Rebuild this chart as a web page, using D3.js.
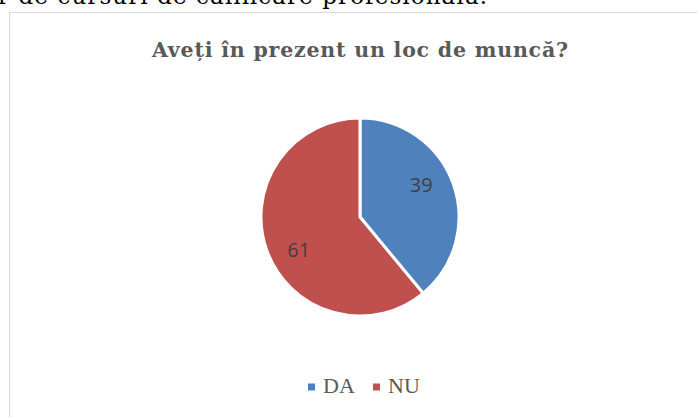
<!DOCTYPE html>
<html><head><meta charset="utf-8">
<script src="https://cdn.jsdelivr.net/npm/d3@7"></script>
<style>body{margin:0;background:#fff;}svg{display:block;}</style>
</head><body>
<svg id="c" width="697" height="417"></svg>
<script>
const categories = ["DA", "NU"];
const values = [39, 61];
const colors = ["#4f81bd", "#c0504d"];
const title = "Aveți în prezent un loc de muncă?";
const docText = "r de cursuri de calificare profesională.";

const svg = d3.select("#c");
// document text clipped at top
svg.append("text").attr("x", -2).attr("y", 4)
  .attr("font-family", "DejaVu Serif, serif").attr("font-size", 23)
  .attr("textLength", 489).attr("lengthAdjust", "spacing")
  .attr("fill", "#000").text(docText);

// chart frame
svg.append("rect").attr("x", 9.5).attr("y", 12.5).attr("width", 700).attr("height", 420)
  .attr("fill", "#fff").attr("stroke", "#d9d9d9").attr("stroke-width", 1);

svg.append("text").attr("x", 360).attr("y", 57).attr("text-anchor", "middle")
  .attr("font-family", "DejaVu Serif, serif").attr("font-weight", "bold")
  .attr("font-size", 20.5).attr("textLength", 416).attr("lengthAdjust", "spacing")
  .attr("fill", "#595959").text(title);

const cx = 360, cy = 217, r = 99;
const pie = d3.pie().sort(null).value(d => d.v);
const data = pie(categories.map((c, i) => ({c, v: values[i], col: colors[i]})));
const arc = d3.arc().innerRadius(0).outerRadius(r);
const g = svg.append("g").attr("transform", `translate(${cx},${cy})`);
g.selectAll("path").data(data).join("path")
  .attr("d", arc).attr("fill", d => d.data.col)
  .attr("stroke", "#fff").attr("stroke-width", 3).attr("stroke-linejoin", "round");

const labelR = r * 0.7, labelShift = 0.14;
g.selectAll("text").data(data).join("text")
  .attr("transform", d => {
    const a = (d.startAngle + d.endAngle) / 2 - labelShift;
    return `translate(${labelR * Math.sin(a)},${-labelR * Math.cos(a)})`;
  })
  .attr("text-anchor", "middle").attr("dy", "0.36em")
  .attr("font-family", "Open Sans, sans-serif").attr("font-size", 20)
  .attr("fill", "#404040").text(d => d.data.v);

// legend
const legend = svg.append("g");
const lx = [308, 373];
categories.forEach((c, i) => {
  legend.append("rect").attr("x", lx[i]).attr("y", 383.5).attr("width", 7).attr("height", 7)
    .attr("fill", colors[i]);
  legend.append("text").attr("x", lx[i] + 15).attr("y", 393)
    .attr("font-family", "Liberation Serif, serif").attr("font-size", 22)
    .attr("fill", "#595959").text(c);
});
</script>
</body></html>
